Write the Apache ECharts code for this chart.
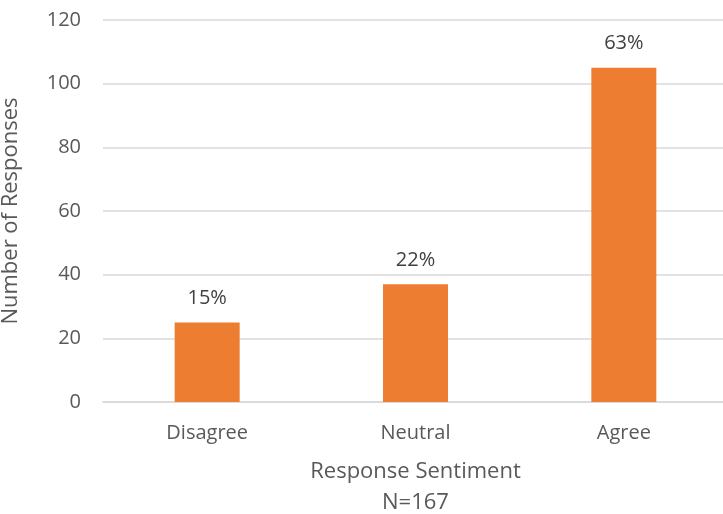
<!DOCTYPE html>
<html>
<head>
<meta charset="utf-8">
<script src="https://cdn.jsdelivr.net/npm/echarts@6/dist/echarts.min.js"></script>
<style>html,body{margin:0;padding:0;background:#fff;overflow:hidden;}#c{width:723px;height:514px;}</style>
</head>
<body>
<div id="c"></div>
<script>
var categories = ['Disagree', 'Neutral', 'Agree'];
var counts = [25, 37, 105];
var percentLabels = ['15%', '22%', '63%'];
var yTicks = [0, 20, 40, 60, 80, 100, 120];

var FONT = '"Open Sans", "Noto Sans", sans-serif';
var chart = echarts.init(document.getElementById('c'), null, {renderer: 'canvas'});
chart.setOption({
  animation: false,
  backgroundColor: '#ffffff',
  textStyle: {fontFamily: FONT, color: '#595959'},
  grid: {left: 103, right: -5, top: 20, bottom: 112, containLabel: false, outerBoundsMode: 'none'},
  xAxis: {
    type: 'category',
    data: categories,
    axisLine: {show: true, lineStyle: {color: '#D9D9D9', width: 1.5}},
    axisTick: {show: false},
    axisLabel: {fontSize: 20, color: '#595959', margin: 21, fontFamily: FONT},
    name: 'Response Sentiment\nN=167',
    nameLocation: 'middle',
    nameGap: 54,
    nameTextStyle: {fontSize: 22, color: '#595959', lineHeight: 31, fontFamily: FONT, verticalAlign: 'top'}
  },
  yAxis: {
    type: 'value',
    min: yTicks[0],
    max: yTicks[yTicks.length - 1],
    interval: 20,
    axisLine: {show: false},
    axisTick: {show: false},
    splitLine: {lineStyle: {color: '#D9D9D9', width: 1.5}},
    axisLabel: {fontSize: 20, color: '#595959', margin: 22, fontFamily: FONT},
    name: 'Number of Responses',
    nameLocation: 'middle',
    nameGap: 81,
    nameTextStyle: {fontSize: 22, color: '#595959', fontFamily: FONT}
  },
  series: [{
    type: 'bar',
    data: counts,
    barWidth: '31.2%',
    itemStyle: {color: '#ED7D31'},
    label: {
      show: true,
      position: 'top',
      distance: 14,
      fontSize: 20,
      color: '#404040',
      fontFamily: FONT,
      formatter: function (p) { return percentLabels[p.dataIndex]; }
    }
  }]
});
</script>
</body>
</html>
